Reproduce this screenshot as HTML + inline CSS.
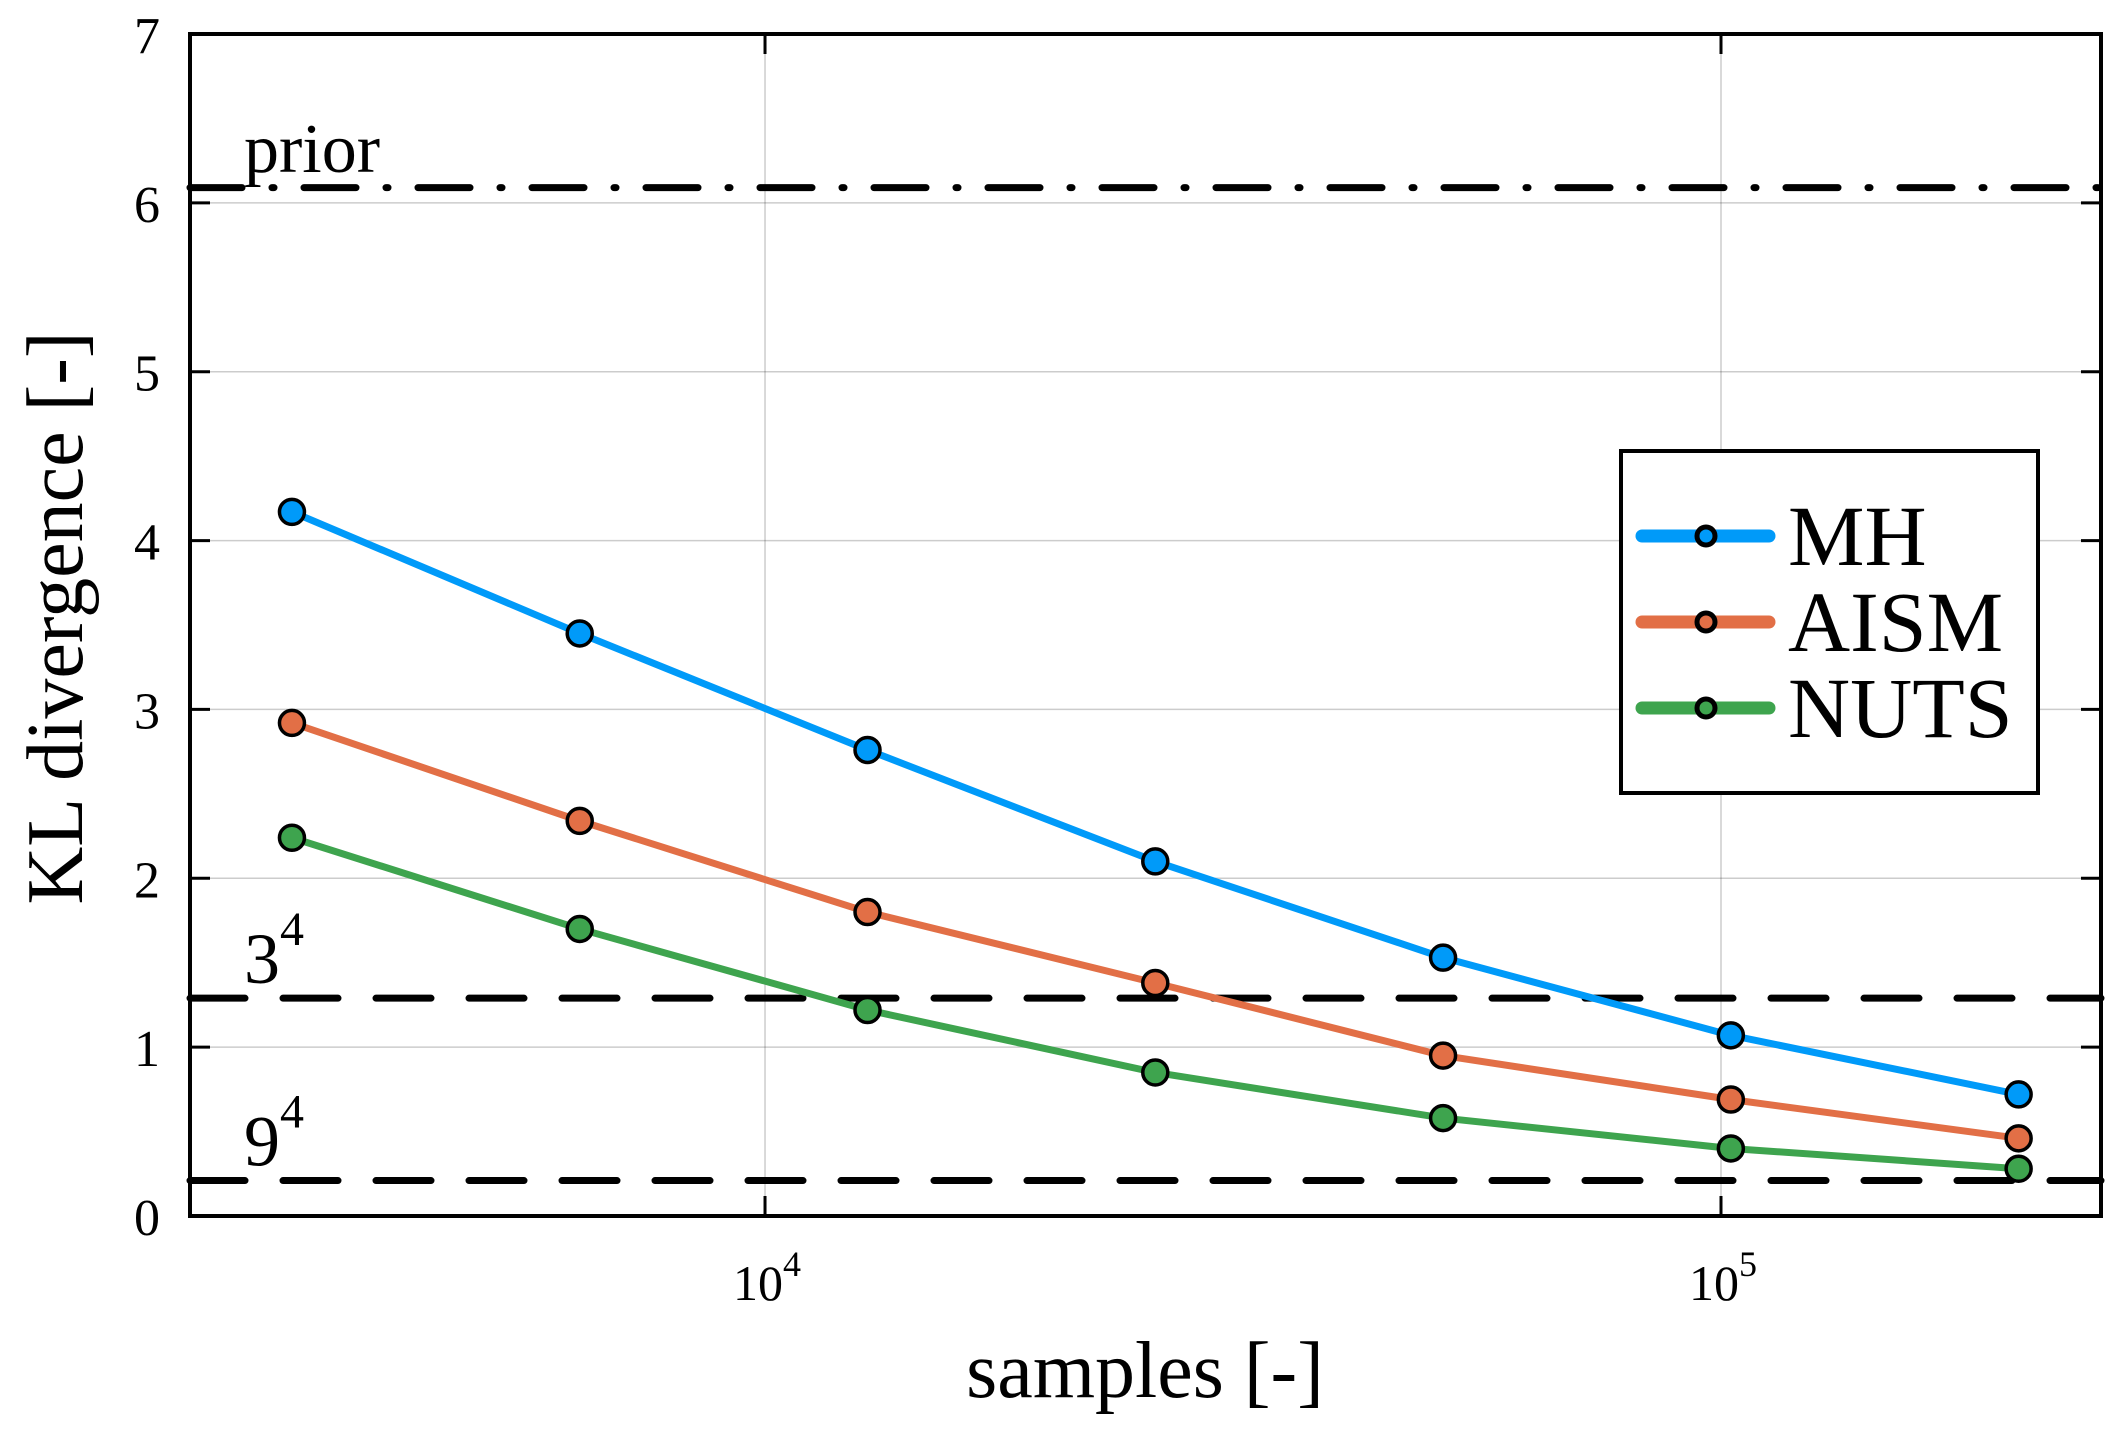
<!DOCTYPE html>
<html><head><meta charset="utf-8">
<style>html,body{margin:0;padding:0;background:#fff}svg{display:block}</style></head>
<body>
<svg id="chart" xmlns="http://www.w3.org/2000/svg" width="2125" height="1439" viewBox="0 0 2125 1439" font-family="'Liberation Serif', serif"></svg>
<script>
const samples = [3200, 6400, 12800, 25600, 51200, 102400, 204800];
const mhValues = [4.17, 3.45, 2.76, 2.10, 1.53, 1.07, 0.72];
const aismValues = [2.92, 2.34, 1.80, 1.38, 0.95, 0.69, 0.46];
const nutsValues = [2.24, 1.70, 1.22, 0.85, 0.58, 0.40, 0.28];
const seriesNames = ["MH", "AISM", "NUTS"];
const refValues = [6.09, 1.29, 0.21];
const refLabels = ["prior", "3", "9"];
const yTicks = [0, 1, 2, 3, 4, 5, 6, 7];
const xTickExps = [4, 5];

const L = 190, R = 2101, T = 34, B = 1216;
const xLogMin = 3.3985, xLogMax = 5.3975;
const xs = v => L + (Math.log10(v) - xLogMin) / (xLogMax - xLogMin) * (R - L);
const ys = v => B - v / 7 * (B - T);
const NS = "http://www.w3.org/2000/svg";
const svg = document.getElementById('chart');
function mk(tag, attrs, parent) {
  const e = document.createElementNS(NS, tag);
  for (const k in attrs) e.setAttribute(k, attrs[k]);
  (parent || svg).appendChild(e);
  return e;
}
yTicks.forEach(t => {
  const g = mk('line', {x1: L, x2: R, y1: ys(t), y2: ys(t), stroke: '#000', 'stroke-opacity': 0.2, 'stroke-width': 1.5});
  
  
  const tk = mk('path', {d: `M${L},${ys(t)}h20M${R},${ys(t)}h-20`, stroke: '#000', 'stroke-width': 3});
  
  
  const lb = mk('text', {x: 160, y: ys(t) + 19, 'text-anchor': 'end', 'font-size': 52});
  lb.textContent = t;
  
  
});
xTickExps.forEach(e => {
  const x = xs(Math.pow(10, e));
  const g = mk('line', {x1: x, x2: x, y1: T, y2: B, stroke: '#000', 'stroke-opacity': 0.2, 'stroke-width': 1.5});
  
  
  const tk = mk('path', {d: `M${x},${B}v-20M${x},${T}v20`, stroke: '#000', 'stroke-width': 3});
  
  
  const lb = mk('text', {x: x + 2, y: 1300, 'text-anchor': 'middle', 'font-size': 50});
  
  
  lb.appendChild(document.createTextNode('10'));
  const sp = mk('tspan', {dy: -24, 'font-size': 36}, lb);
  sp.textContent = e;
});
refValues.forEach((v, i) => {
  const ln = mk('line', {x1: L, x2: R, y1: ys(v), y2: ys(v), stroke: '#000', 'stroke-width': 7, 'stroke-linecap': 'round',
    'stroke-dasharray': i === 0 ? '52,30,2,30' : '55,38'});
  
  
  const tx = mk('text', {x: 244, y: i === 0 ? 172 : ys(v) - 15, 'font-size': i === 0 ? 70 : 72});
  
  
  tx.appendChild(document.createTextNode(refLabels[i]));
  if (i > 0) { const s = mk('tspan', {dy: -38, 'font-size': 48}, tx); s.textContent = '4'; }
});
const colors = ['#009af9', '#e26f46', '#3ea44e'];
[mhValues, aismValues, nutsValues].forEach((vals, si) => {
  const pts = vals.map((v, i) => xs(samples[i]) + ',' + ys(v)).join(' ');
  const pl = mk('polyline', {points: pts, fill: 'none', stroke: colors[si], 'stroke-width': 7, 'stroke-linejoin': 'round'});
  
  
  vals.forEach((v, i) => {
    const c = mk('circle', {cx: xs(samples[i]), cy: ys(v), r: 12.5, fill: colors[si], stroke: '#000', 'stroke-width': 3.5});
    
    
  });
});
const fr = mk('rect', {x: L, y: T, width: R - L, height: B - T, fill: 'none', stroke: '#000', 'stroke-width': 4});


const lg = mk('g', {});


mk('rect', {x: 1621, y: 451, width: 417, height: 342, fill: '#fff', stroke: '#000', 'stroke-width': 4}, lg);
seriesNames.forEach((n, i) => {
  const y = 536 + i * 86;
  const e = mk('g', {}, lg);
  
  
  mk('line', {x1: 1642, x2: 1769, y1: y, y2: y, stroke: colors[i], 'stroke-width': 13, 'stroke-linecap': 'round'}, e);
  mk('circle', {cx: 1706, cy: y, r: 9, fill: colors[i], stroke: '#000', 'stroke-width': 5}, e);
  const t = mk('text', {x: 1788, y: y + 29, 'font-size': 86}, e);
  t.textContent = n;
});
const xt = mk('text', {x: 1145, y: 1397, 'text-anchor': 'middle', 'font-size': 80});


xt.textContent = 'samples [-]';
const yt = mk('text', {x: 0, y: 0, 'text-anchor': 'middle', 'font-size': 80, transform: 'translate(82,618) rotate(-90)'});


yt.textContent = 'KL divergence [-]';
</script>
</body></html>
